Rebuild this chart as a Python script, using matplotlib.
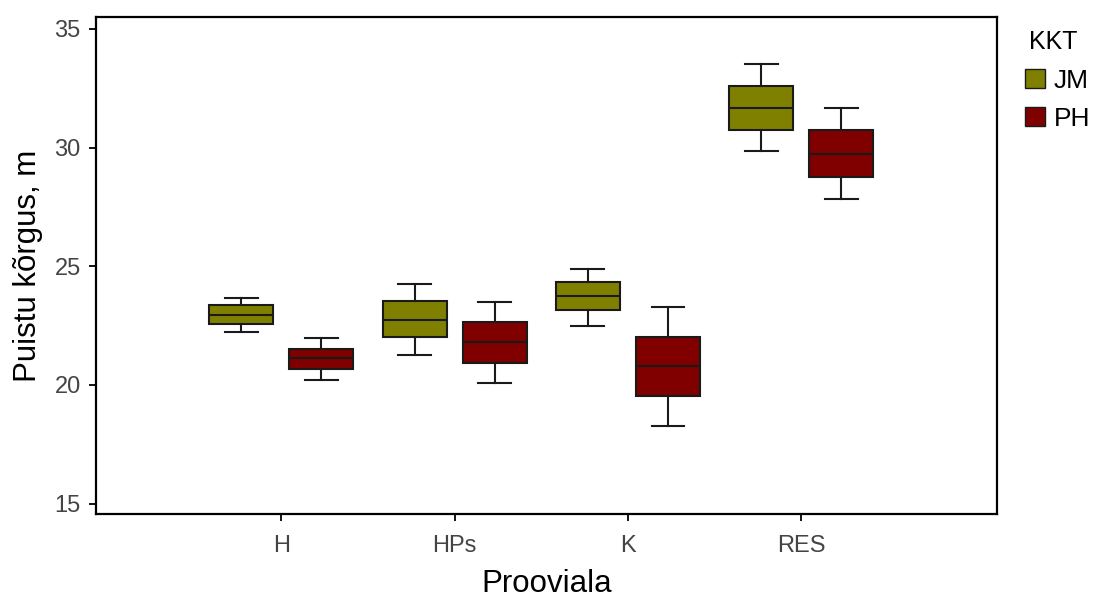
import matplotlib.pyplot as plt
from matplotlib.patches import Patch

plt.rcParams['font.family'] = ['Liberation Sans', 'DejaVu Sans']

# Prooviala categories
cats = ['H', 'HPs', 'K', 'RES']

# box stats per category: whisker low, q1, median, q3, whisker high
jm_low = [22.24, 21.26, 22.49, 29.86]
jm_q1 = [22.57, 22.03, 23.14, 30.76]
jm_med = [22.96, 22.75, 23.73, 31.67]
jm_q3 = [23.35, 23.55, 24.32, 32.60]
jm_high = [23.66, 24.25, 24.89, 33.50]

ph_low = [20.22, 20.08, 18.26, 27.84]
ph_q1 = [20.67, 20.92, 19.51, 28.74]
ph_med = [21.13, 21.79, 20.80, 29.72]
ph_q3 = [21.53, 22.63, 22.03, 30.72]
ph_high = [21.98, 23.48, 23.27, 31.67]

jm_col = '#808000'
ph_col = '#800000'


def make_stats(low, q1, med, q3, high):
    out = []
    for i in range(len(low)):
        out.append({'whislo': low[i], 'q1': q1[i], 'med': med[i],
                    'q3': q3[i], 'whishi': high[i], 'fliers': []})
    return out


fig = plt.figure(figsize=(10.96, 6.01), dpi=100)
ax = fig.add_axes([0.0876, 0.1448, 0.8221, 0.8269])

off = 0.231
w = 0.37
lw = 1.5
for stats, col, sgn in [(make_stats(jm_low, jm_q1, jm_med, jm_q3, jm_high), jm_col, -1),
                        (make_stats(ph_low, ph_q1, ph_med, ph_q3, ph_high), ph_col, 1)]:
    pos = [i + sgn * off for i in range(len(cats))]
    ax.bxp(stats, positions=pos, widths=w, capwidths=0.19, patch_artist=True,
           showfliers=False, manage_ticks=False,
           boxprops=dict(facecolor=col, edgecolor='#1a1a1a', linewidth=lw),
           medianprops=dict(color='#1a1a1a', linewidth=lw),
           whiskerprops=dict(color='#1a1a1a', linewidth=lw),
           capprops=dict(color='#1a1a1a', linewidth=lw))

ax.set_xlim(-1.07, 4.13)
ax.set_ylim(14.56, 35.5)
ax.set_xticks(range(len(cats)))
ax.set_xticklabels(cats)
ax.set_yticks([15, 20, 25, 30, 35])
ax.tick_params(axis='both', labelsize=17, labelcolor='#444444', length=5,
               width=1.3, direction='out')
ax.tick_params(axis='x', pad=10)
ax.tick_params(axis='y', pad=6)
for s in ax.spines.values():
    s.set_linewidth(1.6)

ax.set_xlabel('Prooviala', fontsize=22.5, labelpad=9)
ax.set_ylabel('Puistu kõrgus, m', fontsize=22.5, labelpad=8)

handles = [Patch(facecolor=jm_col, edgecolor='#1a1a1a', label='JM'),
           Patch(facecolor=ph_col, edgecolor='#1a1a1a', label='PH')]
fig.legend(handles=handles, title='KKT', loc='upper left',
           bbox_to_anchor=(1025 / 1096, 1 - 30 / 601), frameon=False,
           fontsize=19, title_fontsize=18, handlelength=0.75, handleheight=0.75,
           handletextpad=0.35, labelspacing=0.55, alignment='left',
           borderaxespad=0, borderpad=0)
fig.legends[0].get_title().set_position((4, 0))

fig.savefig('out.png', dpi=100)
